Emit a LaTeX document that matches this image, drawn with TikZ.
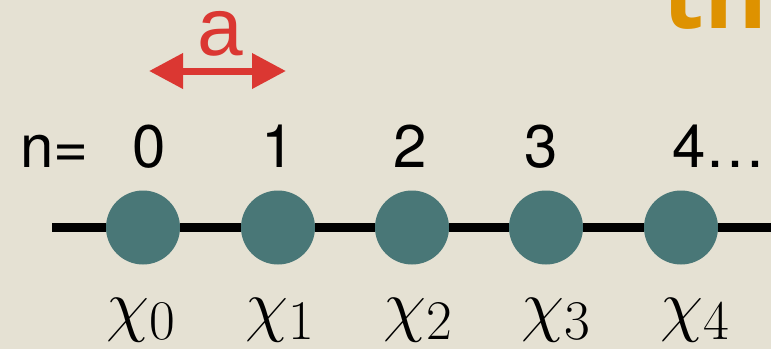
\RequirePackage{fix-cm}
\documentclass[tikz,border=0pt]{standalone}
\usepackage{fontspec}
\usetikzlibrary{arrows.meta}
\newfontfamily\heros{TeX Gyre Heros}
\newfontfamily\spacingfnt{Liberation Sans}
\newfontfamily\titlefnt{Open Sans}
\DeclareMathSizes{35}{35}{28}{22}
\definecolor{paper}{RGB}{229,225,211}
\definecolor{site}{RGB}{73,119,119}
\definecolor{spacing}{RGB}{219,55,50}
\definecolor{headline}{RGB}{222,146,0}
\tikzset{
  siteatom/.style={circle,fill=site,minimum size=37pt,inner sep=0pt},
  chainline/.style={line width=4.5pt,draw=black},
  idx/.style={font=\heros\fontsize{30}{34}\selectfont,inner sep=0pt,anchor=base},
  amp/.style={font=\fontsize{35}{40}\selectfont,inner sep=0pt,anchor=base},
  latgap/.style={{Triangle[length=17pt,width=17pt]}-{Triangle[length=17pt,width=17pt]},
                 line width=3.5pt,draw=spacing},
}

\begin{document}
\begin{tikzpicture}[x=0.5pt,y=-0.5pt]
  \clip (0,0) rectangle (771,349);
  \fill[paper] (0,0) rectangle (771,349);
  \node[font=\titlefnt\bfseries\fontsize{48}{52}\selectfont,text=headline,
        anchor=base west,inner sep=0pt] (head) at (662,28) {the};

  % lattice spacing
  \coordinate (gl) at (149,71);
  \coordinate (gr) at (286,71);
  \draw[latgap] (gl) -- (gr);
  \node[font=\spacingfnt\fontsize{41}{45}\selectfont,text=spacing,inner sep=0pt,
        anchor=base] (alab) at (220,55) {a};

  % site index
  \node[idx,anchor=base west] (nlab) at (20,167) {n=};
  \foreach \i/\x in {0/149,1/278,2/410,3/541}
    \node[idx] (n\i) at (\x,167) {\i};
  \node[idx,anchor=base west] (n4) at (672,167) {4\ldots};

  % chain of sites
  \coordinate (lstart) at (52,227.5);
  \coordinate (lend) at (775,227.5);
  \foreach \i/\x in {0/143,1/278,2/412,3/546,4/681}
    \node[siteatom] (s\i) at (\x,227.5) {};
  \draw[chainline] (lstart) -- (s0) -- (s1) -- (s2) -- (s3) -- (s4) -- (lend);

  \foreach \i/\x in {0/141,1/280,2/418,3/556,4/695}
    \node[amp] (x\i) at (\x,328) {$\chi_\i$};
\end{tikzpicture}
\end{document}
